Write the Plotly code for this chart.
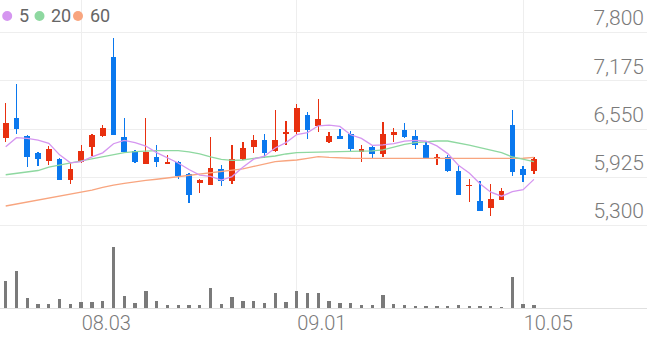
import plotly.graph_objects as go

# ---------------- data ----------------
dates = ["07.23", "07.24", "07.27", "07.28", "07.29", "07.30", "07.31",
         "08.03", "08.04", "08.05", "08.06", "08.07", "08.10", "08.11", "08.12", "08.13", "08.14",
         "08.18", "08.19", "08.20", "08.21", "08.24", "08.25", "08.26", "08.27", "08.28", "08.31",
         "09.01", "09.02", "09.03", "09.04", "09.07", "09.08", "09.09", "09.10", "09.11",
         "09.14", "09.15", "09.16", "09.17", "09.18", "09.21", "09.22", "09.23", "09.24", "09.25",
         "09.28", "09.29", "10.05", "10.06"]

opens = [6440, 6700, 6460, 6240, 6140, 6160, 5890, 6120, 6320, 6460,
         7480, 6450, 6270, 6100, 6190, 6100, 6130, 5970, 5850, 5830,
         6030, 5880, 6160, 6320, 6410, 6270, 6490, 6510, 6730, 6590,
         6390, 6460, 6490, 6260, 6320, 6230, 6480, 6540, 6460, 6350,
         6170, 6190, 6010, 5810, 5620, 5530, 5630, 6600, 6030, 6010]
highs = [6890, 7130, 6470, 6260, 6330, 6180, 6120, 6350, 6490, 6610,
         7730, 6700, 6280, 6700, 6350, 6220, 6140, 5980, 5900, 6450,
         6090, 6350, 6380, 6480, 6490, 6800, 6650, 6880, 6770, 6940,
         6510, 6550, 6530, 6340, 6350, 6640, 6560, 6630, 6540, 6400,
         6230, 6220, 6070, 5910, 5880, 5840, 5790, 6800, 6070, 6190]
lows = [6380, 6490, 6060, 6070, 6090, 5890, 5840, 6110, 6200, 6450,
        6480, 6250, 6110, 6100, 6060, 6100, 5910, 5600, 5720, 5830,
        5810, 5840, 6150, 6240, 6180, 6260, 6340, 6470, 6420, 6510,
        6370, 6420, 6250, 6120, 6180, 6190, 6390, 6440, 6290, 6180,
        6080, 6000, 5700, 5610, 5490, 5420, 5630, 5940, 5870, 5970]
closes = [6630, 6550, 6190, 6160, 6300, 5890, 6030, 6270, 6470, 6560,
          6480, 6250, 6120, 6250, 6130, 6120, 5940, 5700, 5890, 6050,
          5880, 6160, 6310, 6410, 6240, 6410, 6510, 6830, 6540, 6680,
          6460, 6420, 6290, 6300, 6230, 6490, 6510, 6450, 6340, 6180,
          6190, 6010, 5700, 5830, 5490, 5640, 5750, 5990, 5960, 6160]

# volume (thousand shares)
volumes = [275, 370, 100, 45, 40, 90, 45, 60, 60, 75,
           610, 117, 55, 170, 70, 33, 33, 33, 27, 203,
           40, 113, 70, 73, 50, 150, 63, 167, 153, 153,
           70, 47, 47, 27, 27, 130, 40, 33, 23, 23,
           23, 23, 33, 23, 23, 23, 15, 313, 40, 33]

# moving averages
ma5 = [6323, 6440, 6432, 6410, 6366, 6218, 6114, 6130, 6192, 6244,
       6362, 6406, 6376, 6332, 6246, 6174, 6112, 6028, 5956, 5940,
       5892, 5936, 6058, 6162, 6200, 6306, 6376, 6480, 6506, 6594,
       6604, 6586, 6478, 6430, 6340, 6346, 6364, 6396, 6404, 6394,
       6334, 6234, 6084, 5982, 5844, 5734, 5682, 5740, 5766, 5900]
ma20 = [5960, 5976, 5996, 6015, 6060, 6086, 6106, 6132, 6158, 6190,
        6216, 6246, 6259, 6268, 6272, 6272, 6272, 6255, 6229, 6190,
        6158, 6145, 6151, 6173, 6186, 6203, 6229, 6246, 6251, 6255,
        6252, 6257, 6259, 6264, 6268, 6281, 6316, 6354, 6375, 6388,
        6397, 6397, 6375, 6345, 6310, 6281, 6246, 6190, 6158, 6130]
ma60 = [5555, 5581, 5604, 5628, 5652, 5678, 5704, 5730, 5762, 5795,
        5827, 5849, 5870, 5886, 5902, 5918, 5935, 5952, 5968, 5985,
        6002, 6019, 6035, 6067, 6099, 6129, 6141, 6151, 6173, 6194,
        6185, 6177, 6174, 6173, 6172, 6172, 6172, 6172, 6172, 6172,
        6172, 6172, 6172, 6172, 6172, 6172, 6172, 6172, 6174, 6184]

ma_names = ["5", "20", "60"]
x_tick_vals = ["08.03", "09.01", "10.05"]
y_tick_vals = [5300, 5925, 6550, 7175, 7800]

# ---------------- style ----------------
W, H = 647, 337
UP = "#e8300f"
DOWN = "#0a78ee"
MA_COLORS = ["#d596f0", "#8ed8a0", "#f8a57f"]
GRID = "#eeeeee"
TXT = "#7a7a7a"
FONT = "Roboto"

body_base = [min(o, c) for o, c in zip(opens, closes)]
body_h = [max(abs(c - o), 12) for o, c in zip(opens, closes)]
colors = [UP if c > o else DOWN for o, c in zip(opens, closes)]
wick_h = [h - l for h, l in zip(highs, lows)]

fig = go.Figure()

for vals, col, name in zip([ma60, ma20, ma5], MA_COLORS[::-1], ma_names[::-1]):
    fig.add_trace(go.Scatter(x=dates, y=vals, mode="lines", name=name,
                             line=dict(color=col, width=1.3), hoverinfo="skip",
                             xaxis="x", yaxis="y"))

fig.add_trace(go.Bar(x=dates, y=wick_h, base=lows, width=0.12,
                     marker=dict(color=colors, line=dict(width=0)),
                     hoverinfo="skip", xaxis="x", yaxis="y"))
fig.add_trace(go.Bar(x=dates, y=body_h, base=body_base, width=0.53,
                     marker=dict(color=colors, line=dict(width=0)),
                     hoverinfo="skip", xaxis="x", yaxis="y"))
fig.add_trace(go.Bar(x=dates, y=volumes, width=0.31,
                     marker=dict(color="#7a7a7a", line=dict(width=0)),
                     hoverinfo="skip", xaxis="x2", yaxis="y2"))

def py(px):  # pixel row -> paper fraction
    return 1 - px / H

# price scale: 7800 at row 32.7, 5300 at row 225.7
ppx = (7800 - 5300) / (225.7 - 32.7)
price_top = 7800 + 32.7 * ppx
price_bot = 7800 - (240 - 32.7) * ppx
xr = [-0.529, 59.49]

fig.update_layout(
    width=W, height=H, margin=dict(l=0, r=0, t=0, b=0),
    paper_bgcolor="white", plot_bgcolor="white",
    showlegend=False, barmode="overlay", bargap=0,
    font=dict(family=FONT, color=TXT),
    xaxis=dict(domain=[0, 1], anchor="y", type="category", range=xr,
               tickvals=x_tick_vals, showticklabels=False, showgrid=True,
               gridcolor=GRID, gridwidth=1, zeroline=False, showline=False,
               ticks="", fixedrange=True),
    xaxis2=dict(domain=[0, 1], anchor="y2", type="category", range=xr,
                matches="x", tickvals=x_tick_vals, ticktext=x_tick_vals,
                showticklabels=True, showgrid=True, gridcolor=GRID, gridwidth=1,
                zeroline=False, showline=True, linecolor="#e0e0e0", linewidth=1,
                ticks="", ticklabelposition="outside right", ticklabelstandoff=-3,
                tickfont=dict(family=FONT, size=20, color=TXT, weight=300),
                automargin=False, fixedrange=True),
    yaxis=dict(domain=[py(240), 1], range=[price_bot, price_top], side="right",
               tickvals=y_tick_vals, tickformat=",d", showgrid=True,
               gridcolor=GRID, gridwidth=1, zeroline=False, showline=False,
               ticks="", ticklabelposition="inside top",
               tickfont=dict(family=FONT, size=21, color=TXT, weight=300),
               automargin=False, fixedrange=True),
    yaxis2=dict(domain=[py(308), py(240)], range=[0, 680], showgrid=False,
                showticklabels=False, zeroline=False, showline=False,
                fixedrange=True),
)

# legend: colored dots + labels
leg_x = [7.2, 39.5, 78.0]
txt_x = [16.5, 48.5, 87.5]
for cx, tx, col, name in zip(leg_x, txt_x, MA_COLORS, ma_names):
    fig.add_shape(type="circle", xref="paper", yref="paper",
                  x0=(cx - 5) / W, x1=(cx + 5) / W, y0=py(21), y1=py(11),
                  fillcolor=col, line=dict(width=0))
    fig.add_annotation(x=tx / W, y=py(16), xref="paper", yref="paper",
                       text=name, showarrow=False, xanchor="left", yanchor="middle",
                       font=dict(family=FONT, size=18, color="#666666"))

fig.write_html("out.html", config={"displayModeBar": False, "staticPlot": True})
